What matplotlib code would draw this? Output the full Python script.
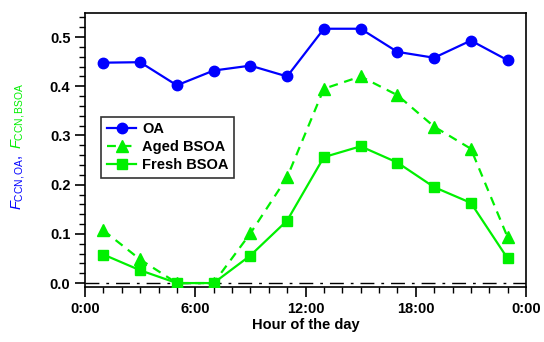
import matplotlib
matplotlib.use("Agg")
import matplotlib.pyplot as plt
from matplotlib.ticker import MultipleLocator, FixedLocator

plt.rcParams['font.family'] = ['Liberation Sans', 'DejaVu Sans']
plt.rcParams['mathtext.fontset'] = 'custom'
plt.rcParams['mathtext.rm'] = 'Liberation Sans'
plt.rcParams['mathtext.it'] = 'Liberation Sans:italic'

# data
hours = [1, 3, 5, 7, 9, 11, 13, 15, 17, 19, 21, 23]
oa = [0.448, 0.449, 0.402, 0.432, 0.442, 0.420, 0.517, 0.517, 0.470, 0.458, 0.493, 0.453]
aged_bsoa = [0.107, 0.048, 0.0, 0.0, 0.101, 0.215, 0.395, 0.420, 0.382, 0.318, 0.273, 0.093]
fresh_bsoa = [0.058, 0.026, 0.0, 0.0, 0.056, 0.127, 0.256, 0.278, 0.245, 0.195, 0.163, 0.050]
xtick_pos = [0, 6, 12, 18, 24]
xtick_labels = ['0:00', '6:00', '12:00', '18:00', '0:00']

blue = '#0000ff'
green = '#00f000'

fig = plt.figure(figsize=(5.44, 3.42), dpi=100)
ax = fig.add_axes([85 / 544, 1 - 287 / 342, 441 / 544, 274 / 342])

ax.axhline(0, color='black', lw=1, ls=(0, (10, 5, 2, 5)), zorder=1)

ax.plot(hours, oa, '-o', color=blue, lw=1.6, ms=7.5, label='OA', zorder=3)
ax.plot(hours, aged_bsoa, '--^', color=green, lw=1.6, ms=8.5, label='Aged BSOA',
        dashes=(4, 3), zorder=3)
ax.plot(hours, fresh_bsoa, '-s', color=green, lw=1.6, ms=7.5, label='Fresh BSOA', zorder=3)

ax.set_xlim(0, 24)
ax.set_ylim(-0.008, 0.549)
ax.xaxis.set_major_locator(FixedLocator(xtick_pos))
ax.set_xticklabels(xtick_labels)
ax.xaxis.set_minor_locator(MultipleLocator(1))
ax.yaxis.set_major_locator(MultipleLocator(0.1))
ax.yaxis.set_minor_locator(MultipleLocator(0.02))
ax.yaxis.set_major_formatter(matplotlib.ticker.FormatStrFormatter('%.1f'))

ax.tick_params(which='major', direction='out', length=7, width=1.2,
               labelsize=10.5, top=False, right=False)
ax.tick_params(which='minor', direction='out', length=4, width=1,
               top=False, right=False)
for lab in ax.get_xticklabels() + ax.get_yticklabels():
    lab.set_fontweight('bold')
for sp in ax.spines.values():
    sp.set_linewidth(1.2)

ax.set_xlabel('Hour of the day', fontsize=10.5, fontweight='bold', labelpad=2)

# two-colour y label
fig.text(18 / 544, 1 - 182 / 342, r'$F_{\rm CCN,OA}$,', color=blue, rotation=90,
         ha='center', va='center', fontsize=10.5)
fig.text(18 / 544, 1 - 116 / 342, r'$F_{\rm CCN,BSOA}$', color=green, rotation=90,
         ha='center', va='center', fontsize=10.5)

leg = ax.legend(loc='upper left', bbox_to_anchor=(0.037, 0.622),
                prop={'weight': 'bold', 'size': 10.5}, frameon=True, fancybox=False,
                edgecolor='black', handlelength=2.0, handletextpad=0.4,
                labelspacing=0.25, borderpad=0.4, borderaxespad=0)
leg.get_frame().set_linewidth(1.2)

fig.savefig('out.png', dpi=100)
